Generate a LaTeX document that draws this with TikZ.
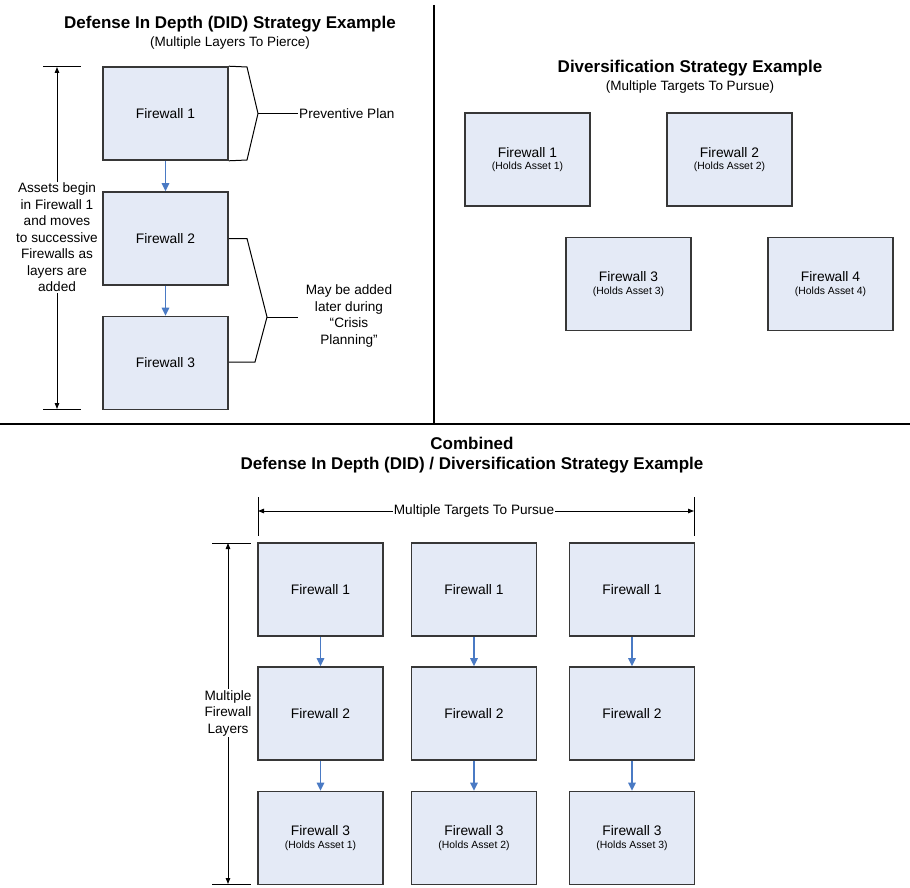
\documentclass[tikz,border=0pt]{standalone}
\usepackage{fontspec}
\setmainfont{Liberation Sans}
\usetikzlibrary{arrows.meta}
\definecolor{boxfill}{RGB}{228,234,246}
\definecolor{boxline}{RGB}{55,55,55}
\definecolor{arrblue}{RGB}{74,122,196}
\tikzset{
  fwbox/.style={draw=boxline, line width=1.6pt, fill=boxfill, minimum width=125pt, minimum height=93pt, inner sep=0pt, align=center, font=\fontsize{13.8}{15.5}\selectfont},
  flowarrow/.style={draw=arrblue, line width=1.4pt, -{Triangle[length=8pt,width=7.5pt]}},
  dimline/.style={draw=black, line width=1pt, {Triangle[length=6pt,width=4.5pt]}-{Triangle[length=6pt,width=4.5pt]}},
  thinline/.style={draw=black, line width=1pt},
  divider/.style={draw=black, line width=1.8pt},
  titletext/.style={font=\fontsize{17}{19}\selectfont\bfseries, align=center, inner sep=0pt},
  subtext/.style={font=\fontsize{13.5}{15}\selectfont, align=center, inner sep=0pt},
  labeltext/.style={font=\fontsize{13.6}{16.5}\selectfont, align=center, inner sep=1pt},
}
\newcommand{\holds}[1]{\\[-3pt]{\fontsize{10.4}{12}\selectfont (Holds Asset #1)}}
\begin{document}
\begin{tikzpicture}[x=1pt,y=-1pt]
\useasboundingbox (0,0) rectangle (910,888);
% dividers
\coordinate (vtop) at (434,5);
\coordinate (vbot) at (434,424);
\coordinate (hl) at (0,424);
\coordinate (hr) at (910,424);
\draw[divider] (vtop) -- (vbot);
\draw[divider] (hl) -- (hr);

% ---------- DID ----------
\node[titletext] (t1) at (230,24) {Defense In Depth (DID) Strategy Example};
\node[subtext] (s1) at (230,43) {(Multiple Layers To Pierce)};
\node[fwbox] (a1) at (165.5,113.5) {Firewall 1};
\node[fwbox] (a2) at (165.5,238.5) {Firewall 2};
\node[fwbox] (a3) at (165.5,363) {Firewall 3};
\draw[flowarrow] (a1.south) -- (a2.north);
\draw[flowarrow] (a2.south) -- (a3.north);
% bracket 1
\coordinate (b1t) at (247,67);
\coordinate (b1a) at (258,113.5);
\coordinate (b1b) at (247,160);
\node[labeltext, anchor=west] (pp) at (298,113.5) {Preventive Plan};
\draw[thinline] (a1.north east) -- (b1t) -- (b1a) -- (b1b) -- (a1.south east);
\draw[thinline] (b1a) -- (pp.west);
% bracket 2
\coordinate (b2t) at (247,238.5);
\coordinate (b2a) at (267,317);
\coordinate (b2b) at (255,362);
\coordinate (b2e) at (298,317);
\node[labeltext] (may) at (349,316) {May be added\\later during\\``Crisis\\Planning''};
\draw[thinline] (a2.east) -- (b2t) -- (b2a) -- (b2b) -- (a3.east |- b2b);
\draw[thinline] (b2a) -- (b2e);
% left dimension
\coordinate (d1t) at (57,67);
\coordinate (d1b) at (57,409);
\coordinate (d1tl) at (43,67);
\coordinate (d1tr) at (81,67);
\coordinate (d1bl) at (43,409);
\coordinate (d1br) at (81,409);
\draw[thinline] (d1tl) -- (d1tr);
\draw[thinline] (d1bl) -- (d1br);
\draw[dimline] (d1t) -- (d1b);
\node[labeltext, fill=white] (assets) at (57,237.5) {Assets begin\\in Firewall 1\\and moves\\to successive\\Firewalls as\\layers are\\added};

% ---------- Diversification ----------
\node[titletext] (t2) at (690,68) {Diversification Strategy Example};
\node[subtext] (s2) at (690,87) {(Multiple Targets To Pursue)};
\node[fwbox] (c1) at (527.5,159.5) {Firewall 1\holds{1}};
\node[fwbox] (c2) at (729.5,159.5) {Firewall 2\holds{2}};
\node[fwbox] (c3) at (628.5,284) {Firewall 3\holds{3}};
\node[fwbox] (c4) at (830.5,284) {Firewall 4\holds{4}};

% ---------- Combined ----------
\node[titletext] (t3) at (472,443) {Combined};
\node[titletext] (t4) at (472,465) {Defense In Depth (DID) / Diversification Strategy Example};

\foreach \c/\x in {1/320.5,2/474,3/632}{
  \node[fwbox] (e\c1) at (\x,589.5) {Firewall 1};
  \node[fwbox] (e\c2) at (\x,713.5) {Firewall 2};
  \node[fwbox] (e\c3) at (\x,838) {Firewall 3\holds{\c}};
  \draw[flowarrow] (e\c1.south) -- (e\c2.north);
  \draw[flowarrow] (e\c2.south) -- (e\c3.north);
}
% horizontal dimension
\coordinate (h1) at (258,511);
\coordinate (h2) at (694,511);
\coordinate (h1t) at (258,497);
\coordinate (h1b) at (258,536);
\coordinate (h2t) at (694,497);
\coordinate (h2b) at (694,536);
\draw[thinline] (h1t) -- (h1b);
\draw[thinline] (h2t) -- (h2b);
\draw[dimline] (h1) -- (h2);
\node[labeltext, fill=white, inner sep=0.5pt] (mt) at (474,511) {Multiple Targets To Pursue};
% vertical dimension
\coordinate (v1) at (228,543);
\coordinate (v2) at (228,884);
\coordinate (v1l) at (212,543);
\coordinate (v1r) at (251,543);
\coordinate (v2l) at (212,884);
\coordinate (v2r) at (251,884);
\draw[thinline] (v1l) -- (v1r);
\draw[thinline] (v2l) -- (v2r);
\draw[dimline] (v1) -- (v2);
\node[labeltext, fill=white] (mf) at (228,713) {Multiple\\Firewall\\Layers};
\end{tikzpicture}
\end{document}
